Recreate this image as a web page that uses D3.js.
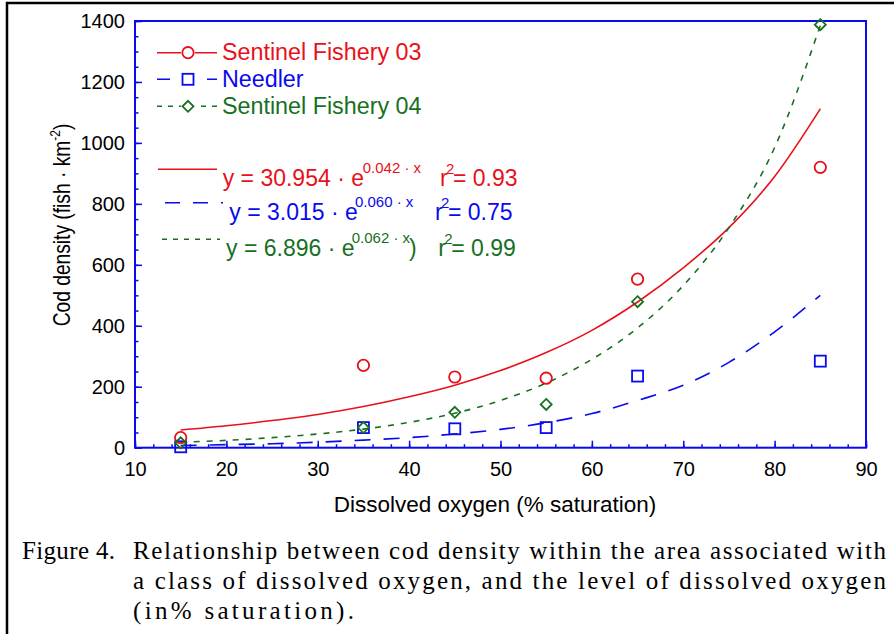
<!DOCTYPE html>
<html lang="en">
<head>
    <meta charset="UTF-8">
    <style>
        body { margin: 0; background: #fff; }
        svg { display: block; }
        text { font-family: "Liberation Sans", Arial, sans-serif; }
        .caption { font-family: "Liberation Serif", "Times New Roman", serif; font-size: 25px; fill: #000; }
        .tick text { font-size: 20px; fill: #000; }
    </style>
    <script src="https://d3js.org/d3.v7.min.js"></script>
</head>
<body>
<svg width="894" height="634"></svg>
<script>
    // measured points
    var doLevels = [15, 35, 45, 55, 65, 85];
    var sentinel03 = [33, 270, 232, 228, 553, 920];
    var needler = [3, 66, 62, 66, 235, 284];
    var sentinel04 = [16, 66, 116, 142, 479, 1388];

    // fitted curves
    var fitX = [15, 20, 25, 30, 35, 40, 45, 50, 55, 60, 65, 70, 75, 80, 85];
    var fit03 = [58, 72, 89, 109, 135, 167, 205, 253, 312, 385, 478, 590, 722, 890, 1112];
    var fitNeedler = [7, 10, 13, 18, 25, 33, 45, 60, 82, 112, 155, 205, 280, 380, 500];
    var fit04 = [18, 24, 33, 45, 61, 83, 113, 155, 212, 290, 393, 532, 722, 985, 1385];

    var xTicks = [10, 20, 30, 40, 50, 60, 70, 80, 90];
    var yTicks = [0, 200, 400, 600, 800, 1000, 1200, 1400];

    var red = "#e8101a", blue = "#0a0aee", green = "#17701f";

    var svg = d3.select("svg");

    // outer page frame
    svg.append("rect").attr("x", 7).attr("y", 3).attr("width", 1000).attr("height", 1000)
        .attr("fill", "none").attr("stroke", "#000").attr("stroke-width", 2.5);

    var x = d3.scaleLinear().domain([10, 90]).range([135, 866]);
    var y = d3.scaleLinear().domain([0, 1400]).range([447.7, 21]);

    function blueTicks(g) {
        g.select(".domain").remove();
        g.selectAll("line").attr("stroke", blue).attr("stroke-width", 1.5);
    }

    // minor ticks
    svg.append("g").attr("transform", "translate(0," + y(0) + ")")
        .call(d3.axisBottom(x).tickValues(d3.range(10, 91, 2)).tickSize(-3.5).tickFormat(""))
        .call(blueTicks);
    svg.append("g").attr("transform", "translate(" + x(10) + ",0)")
        .call(d3.axisLeft(y).tickValues(d3.range(0, 1401, 50)).tickSize(-3.5).tickFormat(""))
        .call(blueTicks);

    // major ticks
    svg.append("g").attr("transform", "translate(0," + y(0) + ")")
        .call(d3.axisBottom(x).tickValues(xTicks).tickSize(-7).tickPadding(14).tickFormat(d3.format("d")))
        .call(blueTicks);
    svg.append("g").attr("transform", "translate(" + x(10) + ",0)")
        .call(d3.axisLeft(y).tickValues(yTicks).tickSize(-7).tickPadding(10).tickFormat(d3.format("d")))
        .call(blueTicks);

    svg.selectAll(".tick text").attr("font-family", "Liberation Sans, Arial, sans-serif");

    // plot frame
    svg.append("rect").attr("x", x(10)).attr("y", y(1400))
        .attr("width", x(90) - x(10)).attr("height", y(0) - y(1400))
        .attr("fill", "none").attr("stroke", blue).attr("stroke-width", 2);

    // axis titles
    var yt = svg.append("text").attr("transform", "translate(70,225) rotate(-90) scale(0.8,1)")
        .attr("text-anchor", "middle").attr("font-size", 24).attr("fill", "#000");
    yt.append("tspan").text("Cod density (fish \u00b7 km");
    yt.append("tspan").attr("font-size", 15).attr("dy", -10).text("-2");
    yt.append("tspan").attr("dy", 10).text(")");

    svg.append("text").attr("x", 495).attr("y", 512).attr("text-anchor", "middle")
        .attr("font-size", 22.5).attr("fill", "#000").text("Dissolved oxygen (% saturation)");

    // fitted lines
    var line = d3.line()
        .x(function(d) { return x(d[0]); })
        .y(function(d) { return y(d[1]); })
        .curve(d3.curveMonotoneX);

    var fits = [
        { vals: fit03, color: red, dash: null },
        { vals: fitNeedler, color: blue, dash: "16,13" },
        { vals: fit04, color: green, dash: "6,7" }
    ];
    fits.forEach(function(f) {
        svg.append("path")
            .datum(fitX.map(function(v, i) { return [v, f.vals[i]]; }))
            .attr("d", line).attr("fill", "none")
            .attr("stroke", f.color).attr("stroke-width", 1.6)
            .attr("stroke-dasharray", f.dash);
    });

    // markers
    function circleMark(g, cx, cy) {
        g.append("circle").attr("cx", cx).attr("cy", cy).attr("r", 5.7)
            .attr("fill", "none").attr("stroke", red).attr("stroke-width", 1.8);
    }
    function squareMark(g, cx, cy) {
        g.append("rect").attr("x", cx - 5.5).attr("y", cy - 5.5).attr("width", 11).attr("height", 11)
            .attr("fill", "none").attr("stroke", blue).attr("stroke-width", 1.8);
    }
    function diamondMark(g, cx, cy) {
        g.append("path").attr("d", "M" + cx + "," + (cy - 5.5) + "L" + (cx + 5.5) + "," + cy +
            "L" + cx + "," + (cy + 5.5) + "L" + (cx - 5.5) + "," + cy + "Z")
            .attr("fill", "none").attr("stroke", green).attr("stroke-width", 1.8);
    }

    var marks = svg.append("g");
    doLevels.forEach(function(d, i) { squareMark(marks, x(d), y(needler[i])); });
    doLevels.forEach(function(d, i) { circleMark(marks, x(d), y(sentinel03[i])); });
    doLevels.forEach(function(d, i) { diamondMark(marks, x(d), y(sentinel04[i])); });

    // legend
    var legendNames = ["Sentinel Fishery 03", "Needler", "Sentinel Fishery 04"];
    var legendColors = [red, blue, green];
    var legendDash = [null, "13,12", "5,6"];
    var legendMark = [circleMark, squareMark, diamondMark];
    var legendY = [52.7, 79.3, 106.3];
    var lg = svg.append("g");
    legendNames.forEach(function(name, i) {
        lg.append("line").attr("x1", 157).attr("x2", 217).attr("y1", legendY[i]).attr("y2", legendY[i])
            .attr("stroke", legendColors[i]).attr("stroke-width", 1.6).attr("stroke-dasharray", legendDash[i]);
        lg.append("rect").attr("x", 181).attr("y", legendY[i] - 7).attr("width", 14).attr("height", 14).attr("fill", "#fff");
        legendMark[i](lg, 188, legendY[i]);
        lg.append("text").attr("x", 222).attr("y", legendY[i] + 7.5).attr("font-size", 23.3)
            .attr("fill", legendColors[i]).text(name);
    });

    // equations
    var eqMain = ["y = 30.954 \u00b7 e", "y = 3.015 \u00b7 e", "y = 6.896 \u00b7 e"];
    var eqExp = ["0.042 \u00b7 x", "0.060 \u00b7 x", "0.062 \u00b7 x"];
    var eqR2 = ["= 0.93", "= 0.75", "= 0.99"];
    var eqLineY = [169.3, 202.7, 239.3];
    var eqBase = [186, 220, 256];
    var eqX = [222.7, 229.3, 226];
    var expX = [362.7, 355, 351.7];
    var rX = [440, 435, 438.3];
    var eqDash = [null, "15,13", "5,6"];
    var eqLineX = [[158, 217], [165, 223], [162, 220]];
    eqMain.forEach(function(t, i) {
        var c = legendColors[i];
        svg.append("line").attr("x1", eqLineX[i][0]).attr("x2", eqLineX[i][1])
            .attr("y1", eqLineY[i]).attr("y2", eqLineY[i])
            .attr("stroke", c).attr("stroke-width", 1.6).attr("stroke-dasharray", eqDash[i]);
        svg.append("text").attr("x", eqX[i]).attr("y", eqBase[i]).attr("font-size", 23).attr("fill", c).text(t);
        svg.append("text").attr("x", expX[i]).attr("y", eqBase[i] - 13).attr("font-size", 15).attr("fill", c).text(eqExp[i]);
        if (i === 2) {
            svg.append("text").attr("x", 409).attr("y", eqBase[i]).attr("font-size", 23).attr("fill", c).text(")");
        }
        svg.append("text").attr("x", rX[i]).attr("y", eqBase[i]).attr("font-size", 23).attr("fill", c).text("r");
        svg.append("text").attr("x", rX[i] + 6).attr("y", eqBase[i] - 12).attr("font-size", 15).attr("fill", c).text("2");
        svg.append("text").attr("x", rX[i] + 13).attr("y", eqBase[i]).attr("font-size", 23).attr("fill", c).text(eqR2[i]);
    });

    // caption: the source spreads its letters to fixed widths
    var capLines = [
        "Relationship between cod density within the area associated with",
        "a class of dissolved oxygen, and the level of dissolved oxygen",
        "(in% saturation)."
    ];
    var capWidths = [753, 753, 221];
    svg.append("text").attr("class", "caption").attr("x", 22).attr("y", 559)
        .attr("textLength", 93).attr("lengthAdjust", "spacing").text("Figure 4.");
    capLines.forEach(function(t, i) {
        svg.append("text").attr("class", "caption").attr("x", 133).attr("y", 559 + i * 30)
            .attr("textLength", capWidths[i]).attr("lengthAdjust", "spacing").text(t);
    });
</script>
</body>
</html>
